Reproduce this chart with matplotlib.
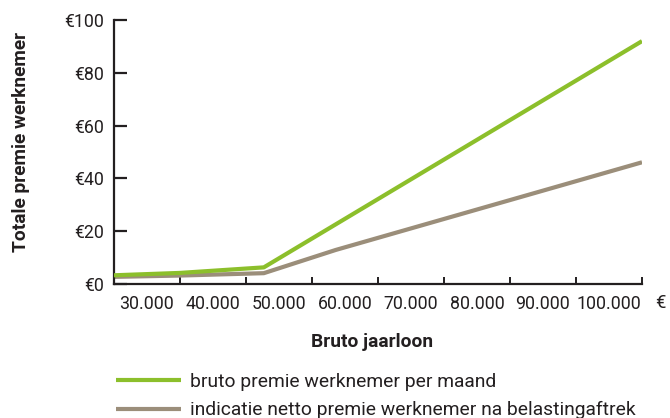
import numpy as np
import matplotlib
matplotlib.use("Agg")
import matplotlib.pyplot as plt
from matplotlib.ticker import FixedLocator, NullFormatter

# salary (EUR / year) -> premium per month
salary_bruto = [25000, 35000, 47700, 105000]
premie_bruto = [3.3, 4.2, 6.3, 92.0]

salary_netto = [25000, 35000, 47700, 58600, 105000]
premie_netto = [2.7, 3.2, 4.1, 12.9, 46.1]

xtick_edges = list(range(25000, 105001, 10000))
xtick_centers = list(range(30000, 100001, 10000))
xtick_labels = [f"{v // 1000}.000" for v in xtick_centers]
ytick_vals = [0, 20, 40, 60, 80, 100]
ytick_labels = [f"€{v}" for v in ytick_vals]

GREEN = "#8cbf2b"
TAUPE = "#9b8e7a"
INK = "#231f20"

plt.rcParams["font.family"] = ["Roboto", "DejaVu Sans"]

W, H = 670, 418
fig = plt.figure(figsize=(W / 100, H / 100), dpi=100)
ax = fig.add_axes([114 / W, 1 - 284 / H, (642 - 114) / W, (284 - 20) / H])

ax.plot(salary_bruto, premie_bruto, color=GREEN, linewidth=3, solid_capstyle="butt",
        label="bruto premie werknemer per maand", zorder=3)
ax.plot(salary_netto, premie_netto, color=TAUPE, linewidth=3, solid_capstyle="butt",
        label="indicatie netto premie werknemer na belastingaftrek", zorder=2)

ax.set_xlim(25000, 105000)
ax.set_ylim(0, 100)

for s in ("top", "right"):
    ax.spines[s].set_visible(False)
for s in ("left", "bottom"):
    ax.spines[s].set_linewidth(1.6)
    ax.spines[s].set_color(INK)

ax.xaxis.set_major_locator(FixedLocator(xtick_edges))
ax.xaxis.set_major_formatter(NullFormatter())
ax.xaxis.set_minor_locator(FixedLocator(xtick_centers))
ax.set_xticklabels(xtick_labels, minor=True)
ax.tick_params(axis="x", which="major", direction="in", length=5, width=1.4, color=INK)
ax.tick_params(axis="x", which="minor", length=0, pad=8, labelsize=12.8, labelcolor=INK)

ax.set_yticks(ytick_vals)
ax.set_yticklabels(ytick_labels)
ax.tick_params(axis="y", direction="in", length=9.5, width=1.6, color=INK,
               pad=7, labelsize=12.8, labelcolor=INK)

# currency sign after the last salary label
ax.annotate("€", xy=(1, 0), xycoords="axes fraction", xytext=(18, -10),
            textcoords="offset pixels", ha="center", va="top", fontsize=13.5, color=INK)

fig.text(21 / W, 1 - 142 / H, "Totale premie werknemer", rotation=90, ha="center",
         va="center", fontsize=13.8, fontweight="bold", color=INK)
fig.text(372 / W, 1 - 342 / H, "Bruto jaarloon", ha="center", va="center",
         fontsize=13.8, fontweight="bold", color=INK)

fig.legend(loc="center left", bbox_to_anchor=(108 / W, 1 - 396 / H), frameon=False,
           fontsize=13.9, handlelength=3.4, handletextpad=0.45, labelspacing=0.55,
           labelcolor=INK, borderaxespad=0)

fig.savefig("out.png", dpi=100)
